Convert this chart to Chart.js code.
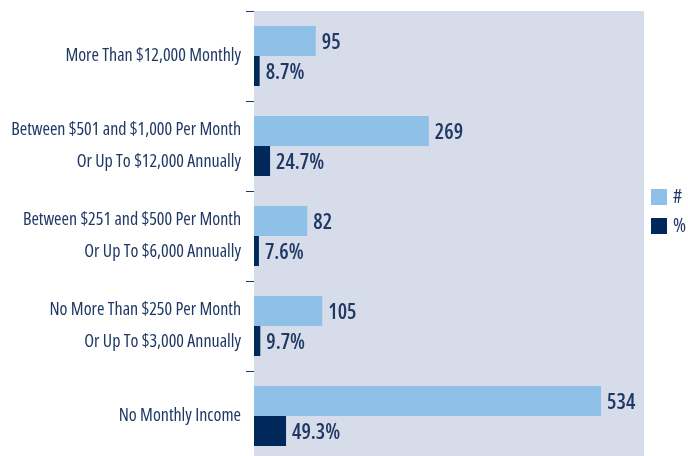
<!DOCTYPE html>
<html>
<head>
<meta charset="utf-8">
<script src="https://cdn.jsdelivr.net/npm/chart.js@4/dist/chart.umd.min.js"></script>
<style>
  html, body { margin: 0; padding: 0; background: #fff; overflow: hidden; }
  #wrap { position: relative; width: 688px; height: 461px; }
</style>
</head>
<body>
<div id="wrap"><canvas id="chart"></canvas></div>
<script>
// Income brackets, top to bottom
const categories = [
    'More Than $12,000 Monthly',
    ['Between $501 and $1,000 Per Month', 'Or Up To $12,000 Annually'],
    ['Between $251 and $500 Per Month', 'Or Up To $6,000 Annually'],
    ['No More Than $250 Per Month', 'Or Up To $3,000 Annually'],
    'No Monthly Income',
];
const counts = [95, 269, 82, 105, 534];
const percents = [8.7, 24.7, 7.6, 9.7, 49.3];
const seriesNames = ['#', '%'];

const COLORS = {
    light: '#8fc1e8',
    dark: '#00285a',
    text: '#1f3864',
    plotBg: '#d6dce9',
};
// Open Sans is variable, "condensed" picks the narrow width
const FONT = '"Open Sans", sans-serif';

// lavender plot background
const plotBackground = {
    id: 'plotBackground',
    beforeDraw(chart) {
        const { ctx, chartArea: a } = chart;
        ctx.save();
        ctx.fillStyle = COLORS.plotBg;
        ctx.fillRect(a.left, a.top, a.right - a.left, a.bottom - a.top);
        ctx.restore();
    },
};

// value labels at the end of each bar
const valueLabels = {
    id: 'valueLabels',
    afterDatasetsDraw(chart) {
        const { ctx } = chart;
        ctx.save();
        ctx.fillStyle = COLORS.text;
        ctx.textBaseline = 'middle';
        ctx.font = '600 condensed 21px ' + FONT;
        chart.data.datasets.forEach((ds, di) => {
            chart.getDatasetMeta(di).data.forEach((bar, i) => {
                const v = ds.data[i];
                const txt = di === 0 ? String(v) : v.toFixed(1) + '%';
                ctx.fillText(txt, bar.x + 6, bar.y + 2);
            });
        });
        ctx.restore();
    },
};

// legend at right
const sideLegend = {
    id: 'sideLegend',
    afterDraw(chart) {
        const { ctx } = chart;
        ctx.save();
        ctx.font = 'condensed 20px ' + FONT;
        ctx.textBaseline = 'middle';
        chart.data.datasets.forEach((ds, i) => {
            const y = 189 + i * 29;
            ctx.fillStyle = ds.backgroundColor;
            ctx.fillRect(651, y, 16, 16);
            ctx.fillStyle = COLORS.text;
            ctx.fillText(ds.label, 673, y + 8);
        });
        ctx.restore();
    },
};

new Chart(document.getElementById('chart'), {
    type: 'bar',
    data: {
        labels: categories,
        datasets: [
            {
                label: seriesNames[0],
                data: counts,
                backgroundColor: COLORS.light,
                categoryPercentage: 0.667,
                barPercentage: 1.0,
            },
            {
                label: seriesNames[1],
                data: percents,
                backgroundColor: COLORS.dark,
                categoryPercentage: 0.667,
                barPercentage: 1.0,
            },
        ],
    },
    options: {
        indexAxis: 'y',
        responsive: true,
        maintainAspectRatio: false,
        animation: false,
        layout: { padding: { top: 11, right: 44, bottom: 0, left: 0 } },
        scales: {
            x: {
                display: false,
                min: 0,
                max: 600,
            },
            y: {
                afterFit: (scale) => {
                    scale.width = 254;
                    scale.paddingTop = 0;
                    scale.paddingBottom = 0;
                },
                border: { display: false },
                grid: {
                    offset: true,
                    drawOnChartArea: false,
                    drawTicks: true,
                    tickLength: 8,
                    color: COLORS.text,
                    lineWidth: 1,
                },
                ticks: {
                    color: COLORS.text,
                    padding: 5,
                    font: { family: FONT, weight: 'condensed', size: 18, lineHeight: 1.78 },
                },
            },
        },
        plugins: {
            legend: { display: false },
            tooltip: { enabled: false },
        },
    },
    plugins: [plotBackground, valueLabels, sideLegend],
});
</script>
</body>
</html>
